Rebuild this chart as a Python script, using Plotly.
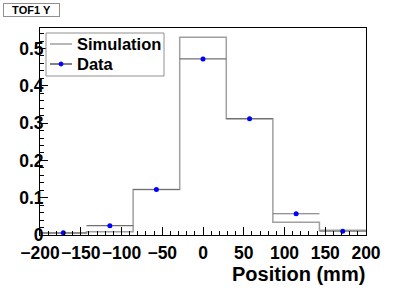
import numpy as np
import plotly.graph_objects as go

# ---- data ----
bin_low, bin_high, n_bins = -200.0, 200.0, 7
sim_values = [0.005, 0.009, 0.122, 0.530, 0.312, 0.034, 0.013]
data_values = [0.006, 0.025, 0.122, 0.472, 0.312, 0.057, 0.010]
data_errors = [0.002, 0.003, 0.004, 0.006, 0.005, 0.003, 0.002]
x_ticks = [-200, -150, -100, -50, 0, 50, 100, 150, 200]
y_ticks = [0, 0.1, 0.2, 0.3, 0.4, 0.5]

edges = np.linspace(bin_low, bin_high, n_bins + 1)
centers = 0.5 * (edges[:-1] + edges[1:])
half_w = 0.5 * (edges[1] - edges[0])

W, H = 407, 292
L, R, T, B = 40, 41, 28, 57
pw, ph = W - L - R, H - T - B

def px(x):
    return (x - L) / pw

def py(y):
    return (H - B - y) / ph

FONT = "Liberation Sans"
SIM_COL = "#a0a0a0"
ERR_COL = "#707070"

fig = go.Figure()
fig.add_trace(go.Scatter(
    x=list(edges), y=list(sim_values) + [sim_values[-1]],
    mode="lines", line=dict(shape="hv", color=SIM_COL, width=1.5),
    showlegend=False, hoverinfo="skip"))
fig.add_trace(go.Scatter(
    x=list(centers), y=data_values, mode="markers",
    marker=dict(color="#0000ff", size=5),
    error_x=dict(type="constant", value=half_w, color=ERR_COL, thickness=1.2, width=0),
    error_y=dict(type="data", array=data_errors, color=ERR_COL, thickness=1.2, width=0),
    showlegend=False))

axis_font = dict(family=FONT, size=17.5, color="black", weight="bold")
fig.update_xaxes(range=[bin_low, bin_high], tickvals=x_ticks, ticks="inside", ticklen=8,
                 tickcolor="black", showline=True, linecolor="black", linewidth=1,
                 mirror=True, showgrid=False, zeroline=False, tickfont=axis_font,
                 automargin=False, ticklabelstandoff=2, tickangle=0,
                 minor=dict(dtick=10, ticks="inside", ticklen=4, tickcolor="black", showgrid=False))
fig.update_yaxes(range=[0, 0.555], tickvals=y_ticks, ticks="inside", ticklen=8,
                 tickcolor="black", showline=True, linecolor="black", linewidth=1,
                 mirror=True, showgrid=False, zeroline=False, tickfont=axis_font,
                 automargin=False, ticklabelstandoff=-8,
                 minor=dict(dtick=0.02, ticks="inside", ticklen=4, tickcolor="black", showgrid=False))

shapes = []
annotations = []
# title box
annotations.append(dict(xref="paper", yref="paper", x=px(3), y=py(3), xanchor="left", yanchor="top",
                        text="<b>TOF1 Y</b>", showarrow=False,
                        font=dict(family=FONT, size=11, color="black"),
                        bordercolor="#909090", borderwidth=1, borderpad=1, bgcolor="white",
                        width=53, height=10))
# legend box
shapes.append(dict(type="rect", xref="paper", yref="paper", x0=px(46), x1=px(164), y0=py(76), y1=py(33),
                   line=dict(color="#909090", width=1), fillcolor="white", layer="above"))
shapes.append(dict(type="line", xref="paper", yref="paper", x0=px(50), x1=px(72), y0=py(44), y1=py(44),
                   line=dict(color=SIM_COL, width=1.5), layer="above"))
shapes.append(dict(type="line", xref="paper", yref="paper", x0=px(50), x1=px(72), y0=py(64), y1=py(64),
                   line=dict(color="#303030", width=1.2), layer="above"))
shapes.append(dict(type="circle", xref="paper", yref="paper", x0=px(59), x1=px(63), y0=py(66), y1=py(62),
                   line=dict(color="#0000ff", width=1), fillcolor="#0000ff", layer="above"))
leg_font = dict(family=FONT, size=16.5, color="black")
annotations.append(dict(xref="paper", yref="paper", x=px(75), y=py(44), xanchor="left", yanchor="middle",
                        text="<b>Simulation</b>", showarrow=False, font=leg_font))
annotations.append(dict(xref="paper", yref="paper", x=px(75), y=py(64), xanchor="left", yanchor="middle",
                        text="<b>Data</b>", showarrow=False, font=leg_font))
# x axis title
annotations.append(dict(xref="paper", yref="paper", x=px(367), y=py(274), xanchor="right", yanchor="middle",
                        text="<b>Position (mm)</b>", showarrow=False,
                        font=dict(family=FONT, size=20, color="black")))

fig.update_layout(width=W, height=H, margin=dict(l=L, r=R, t=T, b=B, autoexpand=False),
                  paper_bgcolor="white", plot_bgcolor="white",
                  shapes=shapes, annotations=annotations,
                  font=dict(family=FONT, color="black"))
fig.write_html("out.html", config={"displayModeBar": False},
               post_script="document.body.style.margin='0';")
